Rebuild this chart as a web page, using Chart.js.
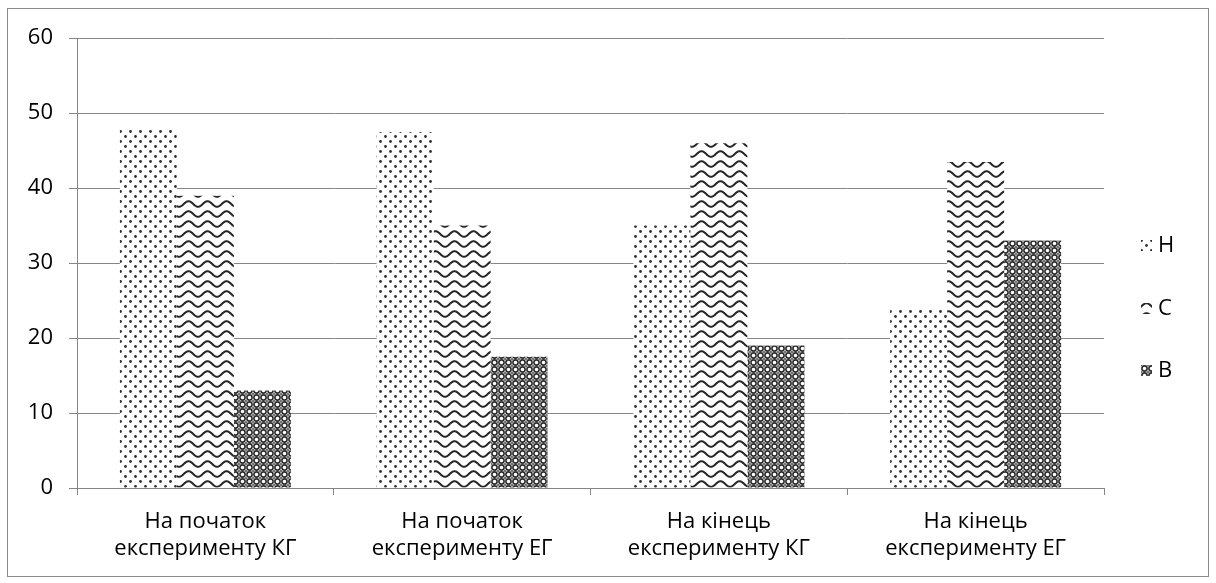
<!DOCTYPE html>
<html>
<head>
<meta charset="utf-8">
<script src="https://cdn.jsdelivr.net/npm/chart.js@4/dist/chart.umd.min.js"></script>
<style>
  html, body { margin: 0; padding: 0; background: #ffffff; }
  #frame {
    position: absolute; left: 7px; top: 8px;
    width: 1200px; height: 567px;
    border: 1px solid #8a8a8a;
  }
  #chart { display: block; }
</style>
</head>
<body>
<div id="frame"><canvas id="chart" width="1200" height="567"></canvas></div>
<script>
// Categories (two-line labels) and series
const categories = [
  ["На початок", "експерименту КГ"],
  ["На початок", "експерименту ЕГ"],
  ["На кінець", "експерименту КГ"],
  ["На кінець", "експерименту ЕГ"]
];
const seriesNames = ["Н", "С", "В"];
const valuesH = [48, 47.5, 35, 24];
const valuesC = [39, 35, 46, 43.5];
const valuesB = [13, 17.5, 19, 33];
const yTicks = [0, 10, 20, 30, 40, 50, 60];

const FONT = "'Open Sans', 'Noto Sans', sans-serif";
const FONT_SIZE = 22;
const GRID = "#868686";

// Fill patterns built on small offscreen tiles
function tile(w, h, draw) {
  const c = document.createElement("canvas");
  c.width = w; c.height = h;
  const g = c.getContext("2d");
  g.fillStyle = "#ffffff";
  g.fillRect(0, 0, w, h);
  draw(g, w, h);
  return document.getElementById("chart").getContext("2d").createPattern(c, "repeat");
}

const dotPattern = tile(10, 10, (g) => {
  g.fillStyle = "#303030";
  [[2.5, 2.5], [7.5, 7.5]].forEach(([x, y]) => {
    g.beginPath(); g.arc(x, y, 1.4, 0, Math.PI * 2); g.fill();
  });
});

const wavePattern = tile(19, 10, (g, w, h) => {
  g.strokeStyle = "#262626";
  g.lineWidth = 2;
  for (const oy of [-h, 0, h]) {
    g.beginPath();
    for (let x = -1; x <= w + 1; x += 0.5) {
      const y = oy + 5 + 2.8 * Math.cos((2 * Math.PI * x) / w);
      if (x === -1) g.moveTo(x, y); else g.lineTo(x, y);
    }
    g.stroke();
  }
});

const ringPattern = tile(7, 7, (g, w, h) => {
  g.strokeStyle = "#2e2e2e";
  g.lineWidth = 1.6;
  g.beginPath(); g.arc(w / 2, h / 2, 2.6, 0, Math.PI * 2); g.stroke();
  g.fillStyle = "#555555";
  [[0, 0], [w, 0], [0, h], [w, h]].forEach(([x, y]) => {
    g.beginPath(); g.arc(x, y, 1.1, 0, Math.PI * 2); g.fill();
  });
});

const patterns = [dotPattern, wavePattern, ringPattern];
const seriesValues = [valuesH, valuesC, valuesB];
// where each legend swatch starts inside its pattern tile
const swatchOffsets = [[2, 2], [4, 2], [0, 0]];

// Legend drawn at the right of the plot, one entry per dataset
const sideLegend = {
  id: "sideLegend",
  afterDraw(chart) {
    const ctx = chart.ctx;
    const ys = [236, 299, 361];
    ctx.save();
    ctx.font = FONT_SIZE + "px " + FONT;
    ctx.textBaseline = "middle";
    chart.data.datasets.forEach((ds, i) => {
      const x = 1133, y = ys[i];
      const [ox, oy] = swatchOffsets[i];
      ctx.save();
      ctx.translate(x - ox, y - 5 - oy);
      ctx.fillStyle = ds.backgroundColor;
      ctx.fillRect(ox, oy, 11, 11);
      ctx.restore();
      ctx.fillStyle = "#000000";
      ctx.fillText(ds.label, x + 17, y + 1);
    });
    ctx.restore();
  }
};

new Chart(document.getElementById("chart"), {
  type: "bar",
  data: {
    labels: categories,
    datasets: seriesNames.map((name, i) => ({
      label: name,
      data: seriesValues[i],
      backgroundColor: patterns[i],
      borderWidth: 0,
      categoryPercentage: 0.666,
      barPercentage: 1.0
    }))
  },
  options: {
    responsive: false,
    animation: false,
    devicePixelRatio: 1,
    layout: { padding: { top: 29, right: 104, left: 0, bottom: 0 } },
    plugins: { legend: { display: false }, tooltip: { enabled: false } },
    scales: {
      x: {
        offset: true,
        grid: {
          display: true, drawOnChartArea: false, drawTicks: true,
          tickLength: 7, color: GRID, lineWidth: 1
        },
        border: { display: true, color: GRID, width: 1 },
        ticks: {
          color: "#000000", padding: 13, maxRotation: 0, autoSkip: false,
          font: { family: FONT, size: FONT_SIZE, lineHeight: 27 / FONT_SIZE }
        },
        afterFit(scale) { scale.height = 88; }
      },
      y: {
        min: 0, max: 60,
        afterBuildTicks(scale) { scale.ticks = yTicks.map(v => ({ value: v })); },
        grid: { color: GRID, lineWidth: 1, tickLength: 8 },
        border: { display: true, color: GRID, width: 1 },
        ticks: {
          color: "#000000", padding: 16,
          font: { family: FONT, size: FONT_SIZE }
        },
        afterFit(scale) { scale.width = 69; }
      }
    }
  },
  plugins: [sideLegend]
});
</script>
</body>
</html>
